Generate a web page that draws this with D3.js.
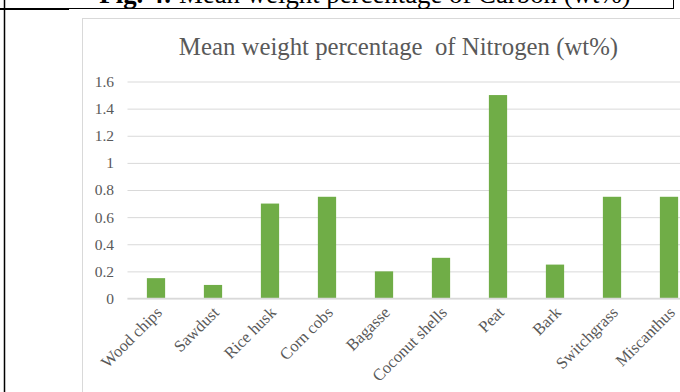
<!DOCTYPE html>
<html><head><meta charset="utf-8">
<script src="https://cdn.jsdelivr.net/npm/d3@7"></script>
<style>html,body{margin:0;padding:0;background:#fff;overflow:hidden}</style>
</head><body>
<script>
const categories = ["Wood chips","Sawdust","Rice husk","Corn cobs","Bagasse","Coconut shells","Peat","Bark","Switchgrass","Miscanthus"];
const nitrogen = [0.15,0.1,0.7,0.75,0.2,0.3,1.5,0.25,0.75,0.75];
const yTicks = [0,0.2,0.4,0.6,0.8,1,1.2,1.4,1.6];
const yTickLabels = ["0","0.2","0.4","0.6","0.8","1","1.2","1.4","1.6"];
const chartTitle = "Mean weight percentage  of Nitrogen (wt%)";
const figBold = "Fig. 4:";
const figRest = " Mean weight percentage of Carbon (wt%)";

const W = 680, H = 392;
const svg = d3.select("body").append("svg").attr("width", W).attr("height", H);
const serif = "'Liberation Serif','Times New Roman',serif";

// header (cut off at top)
const hdr = svg.append("text").attr("x", 365).attr("y", 3).attr("text-anchor","middle")
  .attr("font-family", serif).attr("font-size", 26.8).attr("fill","#000");
hdr.append("tspan").attr("font-weight","bold").text(figBold);
hdr.append("tspan").text(figRest);

// table lines
svg.append("line").attr("x1",4.5).attr("x2",4.5).attr("y1",0).attr("y2",H).attr("stroke","#000").attr("stroke-width",1.5);
svg.append("line").attr("x1",0).attr("x2",69).attr("y1",9).attr("y2",9).attr("stroke","#000").attr("stroke-width",2);
svg.append("line").attr("x1",69).attr("x2",674).attr("y1",8.5).attr("y2",8.5).attr("stroke","#000").attr("stroke-width",1);
svg.append("line").attr("x1",673.5).attr("x2",673.5).attr("y1",0).attr("y2",9).attr("stroke","#000").attr("stroke-width",1);

// chart frame
svg.append("rect").attr("x",82.5).attr("y",18.5).attr("width",700).attr("height",500)
  .attr("fill","#fff").attr("stroke","#d9d9d9").attr("stroke-width",1);

svg.append("text").attr("x",398.5).attr("y",54.5).attr("text-anchor","middle")
  .attr("font-family",serif).attr("font-size",24.8).attr("fill","#595959")
  .attr("xml:space","preserve").style("white-space","pre").text(chartTitle);

const x = d3.scaleBand().domain(categories).range([127.5, 697.5]).paddingInner(0.68).paddingOuter(0.34);
const y = d3.scaleLinear().domain([0,1.6]).range([298.5, 81.5]);

// gridlines
const grid = svg.append("g").attr("transform","translate(127.5,0)")
  .call(d3.axisLeft(y).tickValues(yTicks).tickSize(-(W-127.5)).tickFormat(""));
grid.select(".domain").remove();
grid.selectAll(".tick line").attr("stroke","#d9d9d9").attr("stroke-width",1);

// y labels
const yAx = svg.append("g").attr("transform","translate(114,0)")
  .call(d3.axisLeft(y).tickValues(yTicks).tickSize(0).tickPadding(0).tickFormat((d,i)=>yTickLabels[i]));
yAx.select(".domain").remove();
yAx.selectAll("text").attr("font-family",serif).attr("font-size",15.5).attr("fill","#595959");

// bars
svg.append("g").selectAll("rect").data(categories).join("rect")
  .attr("x", d=>x(d)).attr("width", x.bandwidth())
  .attr("y", (d,i)=>y(nitrogen[i])).attr("height",(d,i)=>y(0)-y(nitrogen[i]))
  .attr("fill","#70ad47");

// x axis baseline
svg.append("line").attr("x1",127.5).attr("x2",W).attr("y1",y(0)).attr("y2",y(0)).attr("stroke","#d9d9d9").attr("stroke-width",1.5);

// x labels
const xAx = svg.append("g").attr("transform",`translate(0,${y(0)})`)
  .call(d3.axisBottom(x).tickSize(0).tickPadding(0));
xAx.select(".domain").remove();
xAx.selectAll("text").attr("font-family",serif).attr("font-size",16.5).attr("fill","#595959")
  .attr("text-anchor","end").attr("dy",null).attr("y",null)
  .attr("transform","translate(7,15) rotate(-45)");
</script>
</body></html>
